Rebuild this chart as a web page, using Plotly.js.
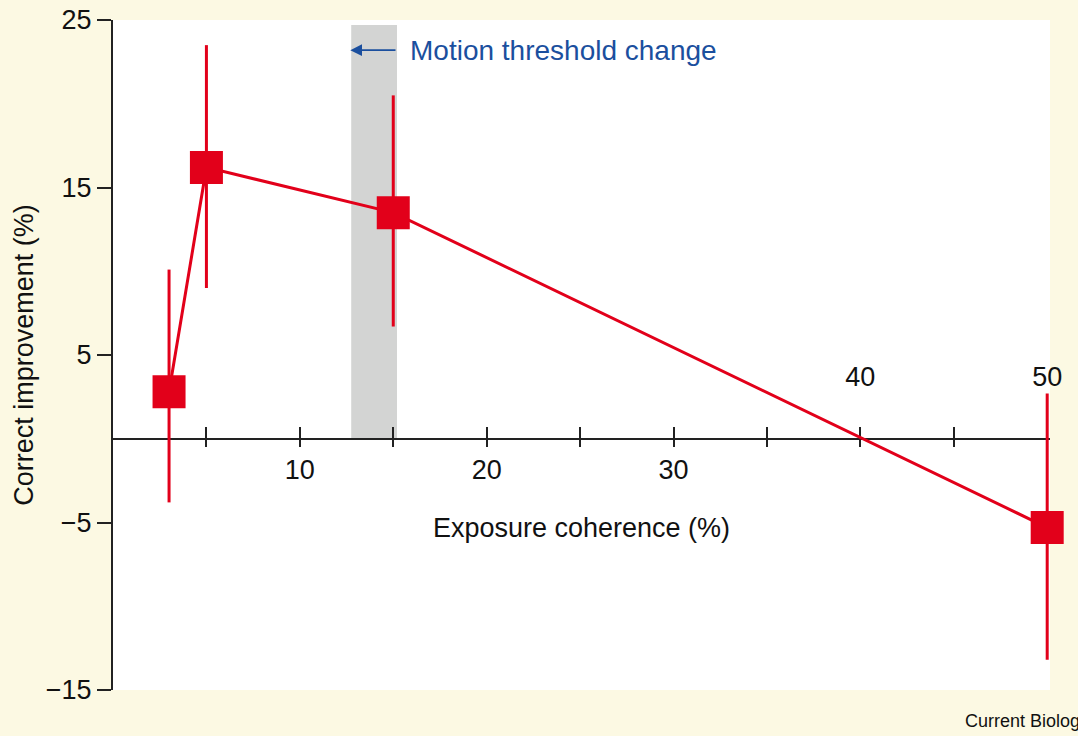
<!DOCTYPE html>
<html>
<head>
<meta charset="utf-8">
<script src="https://cdn.plot.ly/plotly-3.0.1.min.js"></script>
<style>html,body{margin:0;padding:0;background:#fcf9e3;}#chart{width:1078px;height:736px;}</style>
</head>
<body>
<div id="chart"></div>
<script>
// Data
const coherence = [3, 5, 15, 50];                 // Exposure coherence (%)
const improvement = [2.8, 16.2, 13.5, -5.3];      // Correct improvement (%)
const errPlus = [7.3, 7.3, 7.0, 8.0];
const errMinus = [6.6, 7.2, 6.8, 7.9];
const thresholdBand = [12.75, 15.2];              // motion threshold change region (x)
const xTickVals = [5, 10, 15, 20, 25, 30, 35, 40, 45, 50];
const xTickBelow = ['', '10', '', '20', '', '30', '', '', '', ''];
const xTickAbove = ['', '', '', '', '', '', '', '40', '', '50'];
const yTickVals = [-15, -5, 5, 15, 25];

const red = '#e2001a';
const blue = '#1b4f9e';
const font = 'Liberation Sans, Arial, Helvetica, sans-serif';

const traces = [
  {
    // invisible companion trace so the upper tick axis is drawn
    x: coherence, y: improvement, xaxis: 'x2', yaxis: 'y',
    type: 'scatter', mode: 'markers', marker: {opacity: 0, size: 1},
    hoverinfo: 'skip', showlegend: false
  },
  {
    x: coherence, y: improvement,
    type: 'scatter', mode: 'lines+markers',
    line: {color: red, width: 3},
    marker: {symbol: 'square', size: 33, color: red},
    error_y: {type: 'data', array: errPlus, arrayminus: errMinus, visible: true,
              color: red, thickness: 3, width: 0},
    cliponaxis: false, hoverinfo: 'x+y'
  }
];

const yZeroFrac = 15 / 40;

const layout = {
  width: 1078, height: 736,
  paper_bgcolor: '#fcf9e3', plot_bgcolor: '#ffffff',
  margin: {l: 113, r: 28, t: 20, b: 46},
  showlegend: false,
  font: {family: font, size: 27, color: '#111'},
  xaxis: {
    range: [0, 50.15], anchor: 'free', position: yZeroFrac, side: 'bottom',
    tickmode: 'array', tickvals: xTickVals, ticktext: xTickBelow,
    ticks: 'outside', ticklen: 7, tickwidth: 2, tickcolor: '#222',
    showline: true, linecolor: '#222', linewidth: 2,
    showgrid: false, zeroline: false, layer: 'below traces',
    ticklabelstandoff: 0,
    tickfont: {size: 27, color: '#111'},
    title: {text: 'Exposure coherence (%)', font: {size: 27, color: '#111'}, standoff: 33}
  },
  xaxis2: {
    range: [0, 50.15], matches: 'x', overlaying: 'x', anchor: 'free', position: yZeroFrac, side: 'top',
    tickmode: 'array', tickvals: xTickVals, ticktext: xTickAbove,
    ticks: 'outside', ticklen: 12, tickwidth: 2, tickcolor: '#222',
    showline: false, showgrid: false, zeroline: false, layer: 'below traces',
    ticklabelstandoff: 30,
    tickfont: {size: 27, color: '#111'}
  },
  yaxis: {
    range: [-15, 25], tickmode: 'array', tickvals: yTickVals,
    ticks: 'outside', ticklen: 14, tickwidth: 2, tickcolor: '#222',
    showline: true, linecolor: '#222', linewidth: 2,
    showgrid: false, zeroline: false, layer: 'below traces',
    tickfont: {size: 27, color: '#111'},
    title: {text: 'Correct improvement (%)', font: {size: 27, color: '#111'}, standoff: 4}
  },
  shapes: [{
    type: 'rect', xref: 'x', yref: 'y', layer: 'below',
    x0: thresholdBand[0], x1: thresholdBand[1], y0: 0, y1: 24.7,
    fillcolor: '#d3d4d3', line: {width: 0}
  }],
  annotations: [
    {
      xref: 'x', yref: 'y', x: thresholdBand[0] - 0.05, y: 23.2,
      axref: 'x', ayref: 'y', ax: thresholdBand[1], ay: 23.2,
      text: '', showarrow: true, arrowhead: 2, arrowsize: 1.3, arrowwidth: 1.8,
      arrowcolor: blue, standoff: 0, startstandoff: 0
    },
    {
      xref: 'x', yref: 'y', x: 15.8, y: 23.2, xanchor: 'left', yanchor: 'middle',
      text: 'Motion threshold change', showarrow: false,
      font: {size: 28, color: blue, family: font}
    },
    {
      xref: 'paper', yref: 'paper', x: (963 - 113) / 937, y: -0.046,
      xanchor: 'left', yanchor: 'middle', text: 'Current Biology', showarrow: false,
      font: {size: 18, color: '#111', family: font}
    }
  ]
};

Plotly.newPlot('chart', traces, layout, {displayModeBar: false, staticPlot: true});
</script>
</body>
</html>
